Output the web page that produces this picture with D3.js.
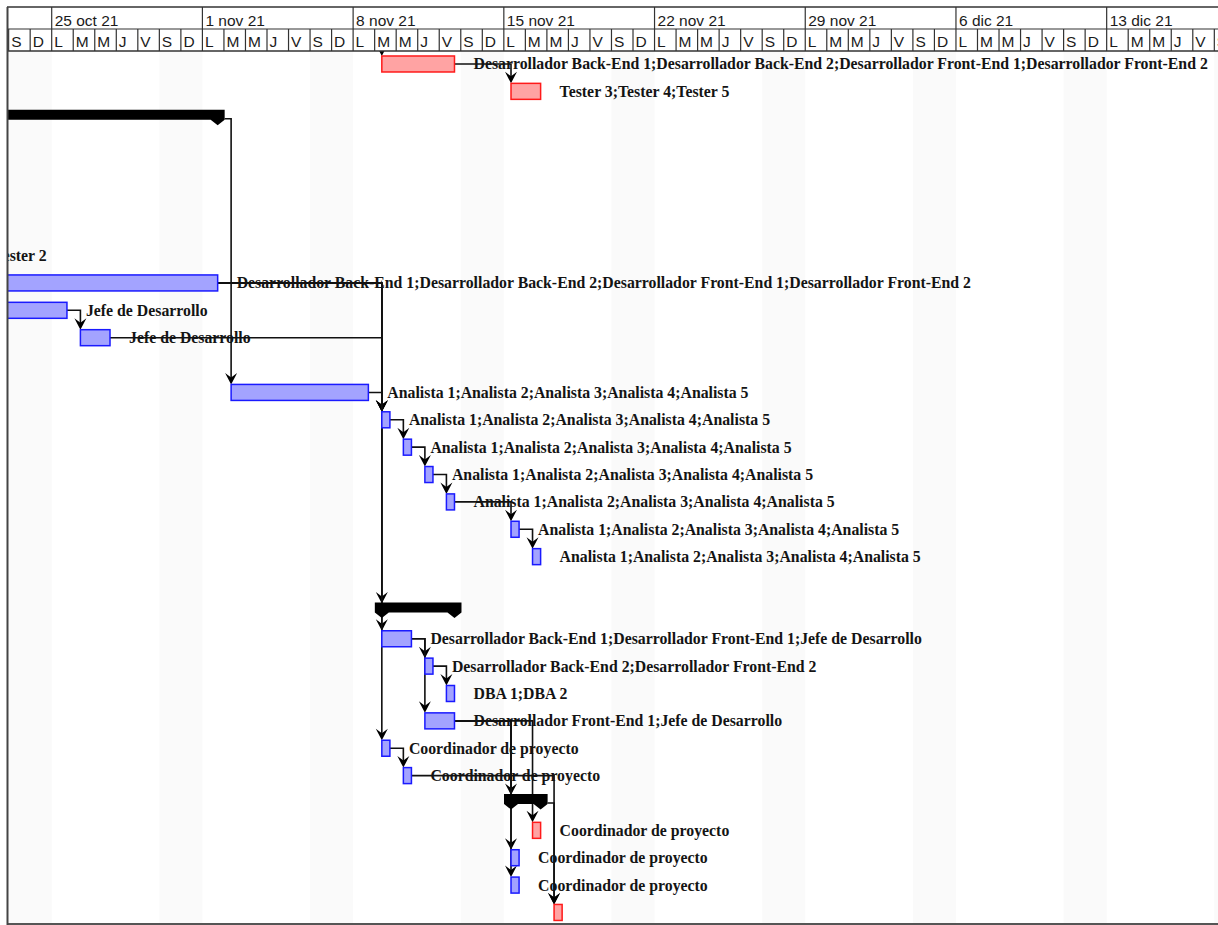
<!DOCTYPE html>
<html><head><meta charset="utf-8">
<script src="https://cdn.jsdelivr.net/npm/d3@7"></script>
<style>html,body{margin:0;padding:0;background:#fff;overflow:hidden}</style>
</head><body><svg id="c" width="1218" height="925"></svg>
<script>
// ---- data ----
const weekLabels = ["25 oct 21","1 nov 21","8 nov 21","15 nov 21","22 nov 21","29 nov 21","6 dic 21","13 dic 21"];
const dayLetters = ["D","L","M","M","J","V","S"]; // indexed by weekday (0 = domingo)
const viewStart = "2021-10-23 00:00";
const viewEnd = "2021-12-20 00:00";

const taskRows   = [-1, 0, 1, 2, 7, 8, 9, 10, 12, 13, 14, 15, 16, 17, 18, 20, 21, 22, 23, 24, 25, 26, 27, 28, 29, 30, 31];
const taskStarts = ["2021-11-05 08:00","2021-11-09 08:00","2021-11-15 08:00","2021-10-04 08:00","2021-10-11 08:00","2021-10-11 08:00","2021-10-18 08:00","2021-10-26 08:00","2021-11-02 08:00","2021-11-09 08:00","2021-11-10 08:00","2021-11-11 08:00","2021-11-12 08:00","2021-11-15 08:00","2021-11-16 08:00","2021-11-09 08:00","2021-11-09 08:00","2021-11-11 08:00","2021-11-12 08:00","2021-11-11 08:00","2021-11-09 08:00","2021-11-10 08:00","2021-11-15 08:00","2021-11-16 08:00","2021-11-15 08:00","2021-11-15 08:00","2021-11-17 08:00"];
const taskEnds   = ["2021-11-08 17:00","2021-11-12 17:00","2021-11-16 17:00","2021-11-01 17:00","2021-10-18 17:00","2021-11-01 17:00","2021-10-25 17:00","2021-10-27 17:00","2021-11-08 17:00","2021-11-09 17:00","2021-11-10 17:00","2021-11-11 17:00","2021-11-12 17:00","2021-11-15 17:00","2021-11-16 17:00","2021-11-12 17:00","2021-11-10 17:00","2021-11-11 17:00","2021-11-12 17:00","2021-11-12 17:00","2021-11-09 17:00","2021-11-10 17:00","2021-11-16 17:00","2021-11-16 17:00","2021-11-15 17:00","2021-11-15 17:00","2021-11-17 17:00"];
const taskTypes  = ["normal","critical","critical","summary","normal","normal","normal","normal","normal","normal","normal","normal","normal","normal","normal","summary","normal","normal","normal","normal","normal","normal","summary","critical","normal","normal","critical"];
const taskLabels = [
  "",
  "Desarrollador Back-End 1;Desarrollador Back-End 2;Desarrollador Front-End 1;Desarrollador Front-End 2",
  "Tester 3;Tester 4;Tester 5",
  "",
  "Tester 1;Tester 2",
  "Desarrollador Back-End 1;Desarrollador Back-End 2;Desarrollador Front-End 1;Desarrollador Front-End 2",
  "Jefe de Desarrollo",
  "Jefe de Desarrollo",
  "Analista 1;Analista 2;Analista 3;Analista 4;Analista 5",
  "Analista 1;Analista 2;Analista 3;Analista 4;Analista 5",
  "Analista 1;Analista 2;Analista 3;Analista 4;Analista 5",
  "Analista 1;Analista 2;Analista 3;Analista 4;Analista 5",
  "Analista 1;Analista 2;Analista 3;Analista 4;Analista 5",
  "Analista 1;Analista 2;Analista 3;Analista 4;Analista 5",
  "Analista 1;Analista 2;Analista 3;Analista 4;Analista 5",
  "",
  "Desarrollador Back-End 1;Desarrollador Front-End 1;Jefe de Desarrollo",
  "Desarrollador Back-End 2;Desarrollador Front-End 2",
  "DBA 1;DBA 2",
  "Desarrollador Front-End 1;Jefe de Desarrollo",
  "Coordinador de proyecto",
  "Coordinador de proyecto",
  "",
  "Coordinador de proyecto",
  "Coordinador de proyecto",
  "Coordinador de proyecto",
  ""
];
const linkFrom = [-1, 0, 2, 9, 8, 10, 12, 8, 8, 8, 13, 14, 15, 16, 17, 21, 21, 22, 25, 24, 24, 24, 24, 26, 27];
const linkTo   = [ 0, 1, 12, 10, 13, 13, 13, 20, 21, 25, 14, 15, 16, 17, 18, 22, 24, 23, 26, 27, 28, 29, 30, 31, 31];

// ---- layout ----
const W = 1218, H = 925;
const leftX = 8, topY = 7, headMid = 29, headBottom = 51, bottomY = 924;
const parse = d3.utcParse("%Y-%m-%d %H:%M");
const x = d3.scaleUtc().domain([parse(viewStart), parse(viewEnd)]).range([8.64, 8.64 + 58 * 21.53]);
const y = d3.scaleBand().domain(d3.range(-1, 32)).range([50.3 - 27.37, 50.3 + 27.37 * 32]).padding(0);
const yc = r => y(r) + y.bandwidth() / 2;

const tasks = taskRows.map((r, i) => ({row: r, start: parse(taskStarts[i]), end: parse(taskEnds[i]), type: taskTypes[i], label: taskLabels[i]}));
const byRow = new Map(tasks.map(t => [t.row, t]));

const svg = d3.select("#c");
svg.append("rect").attr("width", W).attr("height", H).attr("fill", "#fff");

const defs = svg.append("defs");
defs.append("clipPath").attr("id", "body").append("rect").attr("x", leftX).attr("y", headBottom).attr("width", W - leftX).attr("height", bottomY - headBottom);
defs.append("clipPath").attr("id", "head").append("rect").attr("x", leftX).attr("y", topY).attr("width", W - leftX).attr("height", headBottom - topY);

const body = svg.append("g").attr("clip-path", "url(#body)");
const days = d3.utcDay.range(parse(viewStart), parse(viewEnd));

// weekend shading
body.selectAll("rect.we").data(days.filter(d => d.getUTCDay() === 6)).join("rect")
  .attr("x", d => x(d)).attr("y", headBottom)
  .attr("width", d => x(d3.utcDay.offset(d, 2)) - x(d)).attr("height", bottomY - headBottom)
  .attr("fill", "#fafafa");

// links
const arrowPath = (ax, tip) => `M${ax - 6},${tip - 11.5} L${ax},${tip - 7} L${ax + 6},${tip - 11.5} L${ax},${tip} Z`;
const linkG = body.append("g");
linkFrom.forEach((f, i) => {
  const a = byRow.get(f), b = byRow.get(linkTo[i]);
  const xa = x(a.end) + (a.type === "summary" ? 7 : 0);
  const ya = yc(a.row);
  const xb = x(b.start);
  const tip = yc(b.row) - 8;
  linkG.append("path").attr("d", `M${xa},${ya} H${xb} V${tip - 5}`)
    .attr("fill", "none").attr("stroke", "#111").attr("stroke-width", 1.6);
  linkG.append("path").attr("d", arrowPath(xb, tip)).attr("fill", "#000");
});

// bars
const barG = body.append("g");
tasks.forEach(t => {
  const x0 = x(t.start), x1 = x(t.end), c = yc(t.row);
  if (t.type === "summary") {
    const pts = [[x0 - 7, c - 9], [x1 + 7, c - 9], [x1 + 7, c + 1], [x1, c + 6.5], [x1 - 7, c + 1], [x0 + 7, c + 1], [x0, c + 6.5], [x0 - 7, c + 1]];
    barG.append("path").attr("d", d3.line()(pts) + "Z").attr("fill", "#000");
  } else {
    const crit = t.type === "critical";
    barG.append("rect").attr("x", x0).attr("y", c - 8).attr("width", x1 - x0).attr("height", 16)
      .attr("fill", crit ? "#ffa3a3" : "#a3a3ff").attr("stroke", crit ? "#ff1a1a" : "#1a1aff").attr("stroke-width", 1.5);
  }
});

// labels
body.append("g").selectAll("text").data(tasks.filter(t => t.label)).join("text")
  .attr("x", t => x(t.end) + 19).attr("y", t => yc(t.row) + 5.5)
  .attr("font-family", "'Liberation Serif','Times New Roman',serif").attr("font-weight", "bold")
  .attr("font-size", 15.8).attr("fill", "#141414").text(t => t.label);

// header
const head = svg.append("g").attr("clip-path", "url(#head)");
const mondays = d3.utcMonday.range(parse(viewStart), parse(viewEnd));
head.selectAll("line.wk").data(mondays).join("line")
  .attr("x1", d => x(d)).attr("x2", d => x(d)).attr("y1", topY).attr("y2", headMid)
  .attr("stroke", "#333").attr("stroke-width", 1.2);
head.selectAll("text.wk").data(mondays).join("text")
  .attr("x", d => x(d) + 3).attr("y", 25.5)
  .attr("font-family", "'Liberation Sans',Arial,sans-serif").attr("font-size", 15.5).attr("fill", "#1a1a1a")
  .text((d, i) => weekLabels[i]);
head.selectAll("line.dy").data(days).join("line")
  .attr("x1", d => x(d)).attr("x2", d => x(d)).attr("y1", headMid).attr("y2", headBottom)
  .attr("stroke", "#333").attr("stroke-width", 1.2);
head.selectAll("text.dy").data(days).join("text")
  .attr("x", d => x(d) + 2.5).attr("y", 46.5)
  .attr("font-family", "'Liberation Sans',Arial,sans-serif").attr("font-size", 15.5).attr("fill", "#1a1a1a")
  .text(d => dayLetters[d.getUTCDay()]);

// frame lines
const fr = svg.append("g").attr("stroke", "#333");
fr.append("line").attr("x1", 7).attr("x2", W).attr("y1", topY).attr("y2", topY).attr("stroke-width", 1.5);
fr.append("line").attr("x1", 7).attr("x2", W).attr("y1", headMid).attr("y2", headMid).attr("stroke-width", 1.2);
fr.append("line").attr("x1", 7).attr("x2", W).attr("y1", headBottom).attr("y2", headBottom).attr("stroke-width", 1.5);
fr.append("line").attr("x1", 7).attr("x2", W).attr("y1", bottomY).attr("y2", bottomY).attr("stroke-width", 2).attr("stroke", "#555");
fr.append("line").attr("x1", 7.5).attr("x2", 7.5).attr("y1", topY).attr("y2", bottomY + 1).attr("stroke-width", 2).attr("stroke", "#444");
</script></body></html>
